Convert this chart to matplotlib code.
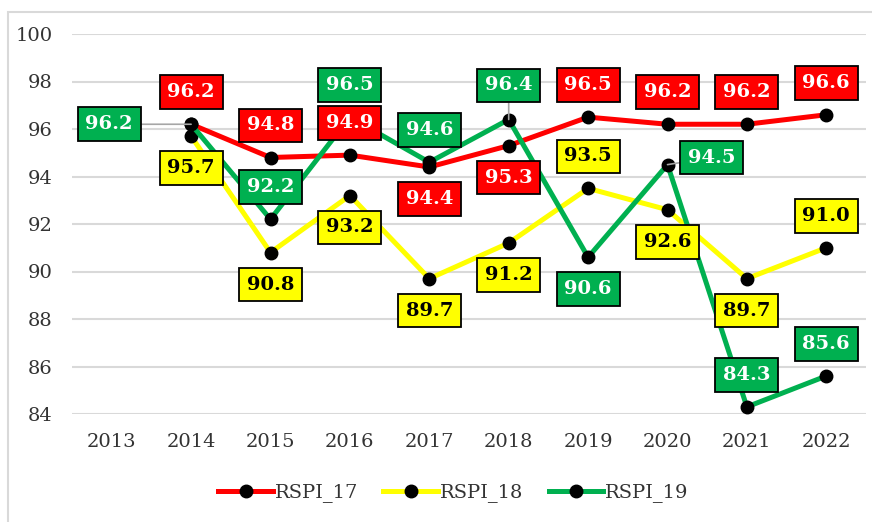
import numpy as np
import matplotlib
matplotlib.use('Agg')
import matplotlib.pyplot as plt
from matplotlib.patches import Rectangle

years = ['2013', '2014', '2015', '2016', '2017', '2018', '2019', '2020', '2021', '2022']
rspi_17 = [np.nan, 96.2, 94.8, 94.9, 94.4, 95.3, 96.5, 96.2, 96.2, 96.6]
rspi_18 = [np.nan, 95.7, 90.8, 93.2, 89.7, 91.2, 93.5, 92.6, 89.7, 91.0]
rspi_19 = [np.nan, 96.2, 92.2, 96.5, 94.6, 96.4, 90.6, 94.5, 84.3, 85.6]

# label placement (pixel offsets from the point)
U, D = (0, 32), (0, -32)
place_17 = [None, U, U, U, D, D, U, U, U, U]
place_18 = [None, D, D, D, D, D, U, D, D, U]
place_19 = [None, (-82, 0), U, U, U, (0, 34), D, (44, 7), U, U]
leader_19 = [False, True, False, False, False, True, False, True, False, False]

plt.rcParams['font.family'] = ['DejaVu Serif']

fig = plt.figure(figsize=(8.72, 5.22), dpi=100)
ax = fig.add_axes([72/872, 1-414/522, 794/872, 380/522])

# light chart-area border
fig.patches.append(Rectangle((8/872, -0.1), 1.2, 1.1-12/522, transform=fig.transFigure,
                             fill=False, edgecolor='#d9d9d9', lw=1.5, clip_on=False))

x = np.arange(len(years))
series = [
    ('RSPI_17', rspi_17, '#ff0000', 'white', place_17, None),
    ('RSPI_18', rspi_18, '#ffff00', 'black', place_18, None),
    ('RSPI_19', rspi_19, '#00b050', 'white', place_19, leader_19),
]

for name, vals, col, tcol, place, leader in series:
    ax.plot(x, vals, color=col, lw=3.6, marker='o', ms=9,
            mfc='black', mec='black', label=name, zorder=3)

for name, vals, col, tcol, place, leader in series:
    for i, v in enumerate(vals):
        if place[i] is None:
            continue
        kw = {}
        if leader is not None and leader[i]:
            kw['arrowprops'] = dict(arrowstyle='-', color='#a6a6a6', lw=1.2,
                                    shrinkA=0, shrinkB=0)
        ax.annotate('%.1f' % v, (x[i], v), xytext=place[i], textcoords='offset pixels',
                    ha='center', va='center', fontsize=14, fontweight='bold',
                    color=tcol, zorder=5,
                    bbox=dict(boxstyle='square,pad=0.4', fc=col, ec='black', lw=1.3),
                    **kw)

ax.set_xlim(-0.5, 9.5)
ax.set_ylim(84, 100)
ax.set_yticks(np.arange(84, 101, 2))
ax.set_xticks(x)
ax.set_xticklabels(years)
ax.tick_params(length=0, labelsize=14, colors='#333333')
ax.tick_params(axis='x', pad=14)
ax.tick_params(axis='y', pad=14)
ax.grid(axis='y', color='#d9d9d9', lw=1.5)
ax.set_axisbelow(True)
for s in ax.spines.values():
    s.set_visible(False)

fig.legend(loc='center', bbox_to_anchor=(0.52, 1-493/522), ncol=3, frameon=False,
           fontsize=14, handlelength=2.8, columnspacing=1.3, handletextpad=0.1,
           labelcolor='#333333')

fig.savefig('out.png', dpi=100)
